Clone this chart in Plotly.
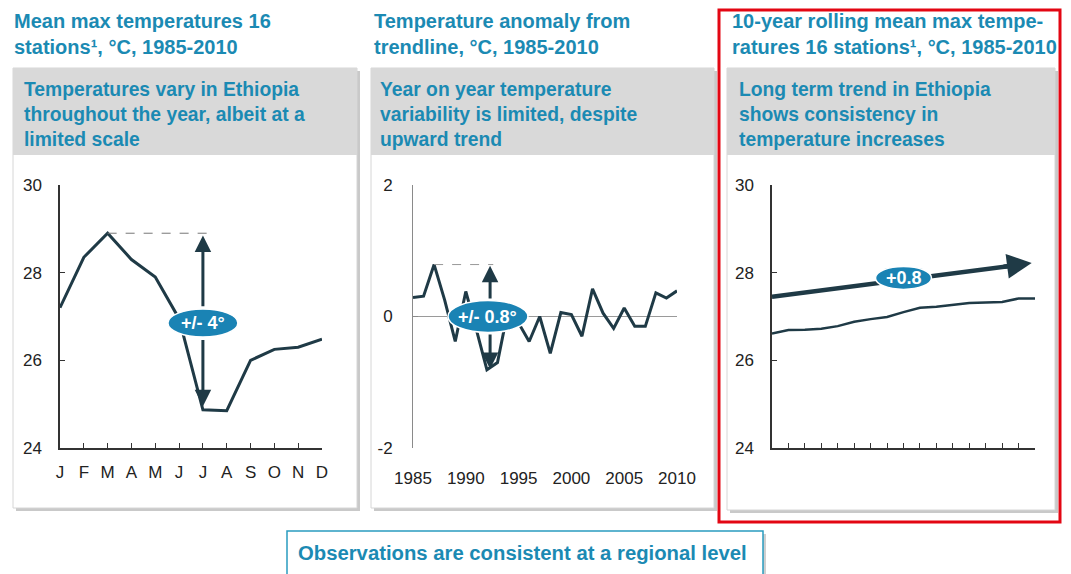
import plotly.graph_objects as go

OFF = 8  # page body margin shifts the figure
W, H = 1071 - 2 * OFF, 574 - OFF

TEAL = "#1b8ab3"
DARK = "#1f3a46"
OVAL = "#1a83b4"
FONT = "Liberation Sans, Arial, sans-serif"

# panel 1: monthly mean max temperature
month_labels = ["J", "F", "M", "A", "M", "J", "J", "A", "S", "O", "N", "D"]
month_idx = list(range(12))
monthly_max = [27.2, 28.35, 28.9, 28.3, 27.9, 26.95, 24.87, 24.85, 26.0, 26.25, 26.3, 26.48]

# panel 2: anomaly from trendline
years = list(range(1985, 2011))
anomaly = [0.29, 0.31, 0.79, 0.25, -0.38, 0.38, -0.2, -0.81, -0.7, 0.1, -0.1, -0.38, 0.0,
           -0.56, 0.06, 0.03, -0.3, 0.42, 0.05, -0.18, 0.13, -0.15, -0.15, 0.36, 0.28, 0.39]
year_ticks = [1985, 1990, 1995, 2000, 2005, 2010]

# panel 3: 10-year rolling mean
roll_years = list(range(1994, 2011))
rolling = [26.61, 26.69, 26.70, 26.72, 26.78, 26.88, 26.94, 26.99, 27.10, 27.20, 27.22,
           27.26, 27.31, 27.32, 27.33, 27.41, 27.41]
trend_x = [1994, 2009.3]
trend_y = [27.45, 28.19]

titles = [
    "Mean max temperatures 16<br>stations¹, °C, 1985-2010",
    "Temperature anomaly from<br>trendline, °C, 1985-2010",
    "10-year rolling mean max tempe-<br>ratures 16 stations¹, °C, 1985-2010",
]
headers = [
    "Temperatures vary in Ethiopia<br>throughout the year, albeit at a<br>limited scale",
    "Year on year temperature<br>variability is limited, despite<br>upward trend",
    "Long term trend in Ethiopia<br>shows consistency in<br>temperature increases",
]


def px(x):
    return (x - OFF) / W


def py(y):
    return 1 - (y - OFF) / H


fig = go.Figure()
fig.add_trace(go.Scatter(x=month_idx, y=monthly_max, mode="lines", line=dict(color=DARK, width=3),
                         xaxis="x", yaxis="y", hoverinfo="skip"))
fig.add_trace(go.Scatter(x=years, y=anomaly, mode="lines", line=dict(color=DARK, width=3),
                         xaxis="x2", yaxis="y2", hoverinfo="skip"))
fig.add_trace(go.Scatter(x=roll_years, y=rolling, mode="lines", line=dict(color=DARK, width=2.5),
                         xaxis="x3", yaxis="y3", hoverinfo="skip"))
fig.add_trace(go.Scatter(x=trend_x, y=trend_y, mode="lines", line=dict(color=DARK, width=4.5),
                         xaxis="x3", yaxis="y3", hoverinfo="skip"))

ydom = [py(448), py(185)]
tick_font = dict(family=FONT, size=17, color="#222")
common_y = dict(domain=ydom, showgrid=False, zeroline=False, ticks="inside", ticklen=5,
                tickfont=tick_font, showline=True, linewidth=1.5, ticklabelstandoff=13,
                automargin=False)

fig.update_layout(
    width=W, height=H, margin=dict(l=0, r=0, t=0, b=0, autoexpand=False),
    paper_bgcolor="white", plot_bgcolor="rgba(0,0,0,0)", showlegend=False,
    font=dict(family=FONT),
    xaxis=dict(domain=[px(60), px(322)], range=[0, 11], tickvals=month_idx, ticktext=month_labels,
               ticks="inside", ticklen=5, showline=True, linewidth=1.5, linecolor="#333", tickcolor="#333",
               showgrid=False, zeroline=False, tickfont=tick_font, ticklabelstandoff=8, anchor="y",
               automargin=False),
    yaxis=dict(range=[24, 30], tickvals=[24, 26, 28, 30], linecolor="#333", tickcolor="#333",
               anchor="x", **common_y),
    xaxis2=dict(domain=[px(413), px(677)], range=[1985, 2010], tickvals=year_ticks, ticks="",
                showline=False, showgrid=False, zeroline=False, tickfont=tick_font,
                ticklabelstandoff=18, anchor="y2", automargin=False),
    yaxis2=dict(range=[-2, 2], tickvals=[-2, 0, 2], ticktext=["-2", "0", "2"], linecolor="#8a8a8a",
                tickcolor="#8a8a8a", anchor="x2",
                **{**common_y, "zeroline": True, "zerolinecolor": "#9a9a9a",
                   "zerolinewidth": 1, "linewidth": 1, "ticklabelstandoff": 16}),
    xaxis3=dict(domain=[px(772), px(1035)], range=[1994, 2010], dtick=1, tick0=1994,
                ticks="inside", ticklen=5, showticklabels=False, showline=True, linewidth=1.5,
                linecolor="#333", tickcolor="#333", showgrid=False, zeroline=False, anchor="y3",
                automargin=False),
    yaxis3=dict(range=[24, 30], tickvals=[24, 26, 28, 30], linecolor="#333", tickcolor="#333",
                anchor="x3", **common_y),
)

shapes = []
cards = [(13, 357, 508), (371, 714, 508), (727, 1055, 510)]
for x0, x1, y1 in cards:
    shapes.append(dict(type="rect", xref="paper", yref="paper", x0=px(x0 + 3), x1=px(x1 + 3),
                       y0=py(y1 + 3), y1=py(71), fillcolor="#c9c9c9", line=dict(width=0), layer="below"))
    shapes.append(dict(type="rect", xref="paper", yref="paper", x0=px(x0), x1=px(x1),
                       y0=py(y1), y1=py(68), fillcolor="white", line=dict(color="#d6d6d6", width=1),
                       layer="below"))
    shapes.append(dict(type="rect", xref="paper", yref="paper", x0=px(x0), x1=px(x1),
                       y0=py(155), y1=py(68), fillcolor="#d9d9d9", line=dict(width=0), layer="below"))

# red highlight frame
shapes.append(dict(type="rect", xref="paper", yref="paper", x0=px(719), x1=px(1060),
                   y0=py(522), y1=py(10), line=dict(color="#e30613", width=3), layer="above"))

# bottom note box
shapes.append(dict(type="rect", xref="paper", yref="paper", x0=px(290), x1=px(766),
                   y0=py(584), y1=py(534), fillcolor="#cfcfcf", line=dict(width=0), layer="below"))
shapes.append(dict(type="rect", xref="paper", yref="paper", x0=px(287), x1=px(763),
                   y0=py(584), y1=py(531), fillcolor="white", line=dict(color="#2a9cc0", width=1.5),
                   layer="below"))

# dashed reference lines
shapes.append(dict(type="line", xref="x", yref="y", x0=2, x1=6.25, y0=28.9, y1=28.9,
                   line=dict(color="#777", width=1, dash="dash"), layer="above"))
shapes.append(dict(type="line", xref="x2", yref="y2", x0=1987, x1=1992.6, y0=0.79, y1=0.79,
                   line=dict(color="#999", width=1, dash="dash"), layer="above"))

# oval labels
ovals = [("x", "y", 6, 26.85, 70, 28, "+/- 4°"),
         ("x2", "y2", 1992.1, 0.0, 80, 32, "+/- 0.8°"),
         ("x3", "y3", 2002.0, 27.88, 56, 23, "+0.8")]
for xr, yr, cx, cy, w, h, txt in ovals:
    shapes.append(dict(type="circle", xref=xr, yref=yr, xsizemode="pixel", ysizemode="pixel",
                       xanchor=cx, yanchor=cy, x0=-w / 2, x1=w / 2, y0=-h / 2, y1=h / 2,
                       fillcolor=OVAL, line=dict(color="white", width=1.5), layer="above"))

fig.update_layout(shapes=shapes)

ann = []
for xr, yr, cx, cy, w, h, txt in ovals:
    ann.append(dict(xref=xr, yref=yr, x=cx, y=cy, text="<b>" + txt + "</b>", showarrow=False,
                    xanchor="center", yanchor="middle",
                    font=dict(family=FONT, size=18, color="white")))

# vertical double arrows split around the ovals
arrow_parts = [("x", "y", 6, 28.85, 27.2), ("x", "y", 6, 24.95, 26.5),
               ("x2", "y2", 1992.3, 0.77, 0.25), ("x2", "y2", 1992.3, -0.8, -0.25)]
for xr, yr, x, head, tail in arrow_parts:
    ann.append(dict(xref=xr, yref=yr, x=x, y=head, axref=xr, ayref=yr, ax=x, ay=tail, text="",
                    showarrow=True, arrowhead=2, arrowsize=1.1, arrowwidth=3, arrowcolor=DARK,
                    standoff=0, startstandoff=0))
ann.append(dict(xref="x3", yref="y3", x=2009.8, y=28.22, axref="x3", ayref="y3", ax=2008.0,
                ay=28.133, text="", showarrow=True, arrowhead=2, arrowsize=1.1, arrowwidth=4.5,
                arrowcolor=DARK, standoff=0, startstandoff=0))

title_x = [12, 372, 730]
header_x = [22, 378, 737]
for i in range(3):
    ann.append(dict(xref="paper", yref="paper", x=px(title_x[i]), y=py(8), xanchor="left",
                    yanchor="top", align="left", showarrow=False, text="<b>" + titles[i] + "</b>",
                    font=dict(family=FONT, size=20, color=TEAL)))
    ann.append(dict(xref="paper", yref="paper", x=px(header_x[i]), y=py(77), xanchor="left",
                    yanchor="top", align="left", showarrow=False, text="<b>" + headers[i] + "</b>",
                    font=dict(family=FONT, size=19.3, color=TEAL)))

ann.append(dict(xref="paper", yref="paper", x=px(522), y=py(553), showarrow=False,
                xanchor="center", yanchor="middle",
                text="<b>Observations are consistent at a regional level</b>",
                font=dict(family=FONT, size=20.3, color=TEAL)))

fig.update_layout(annotations=ann)
fig.write_html("out.html")
